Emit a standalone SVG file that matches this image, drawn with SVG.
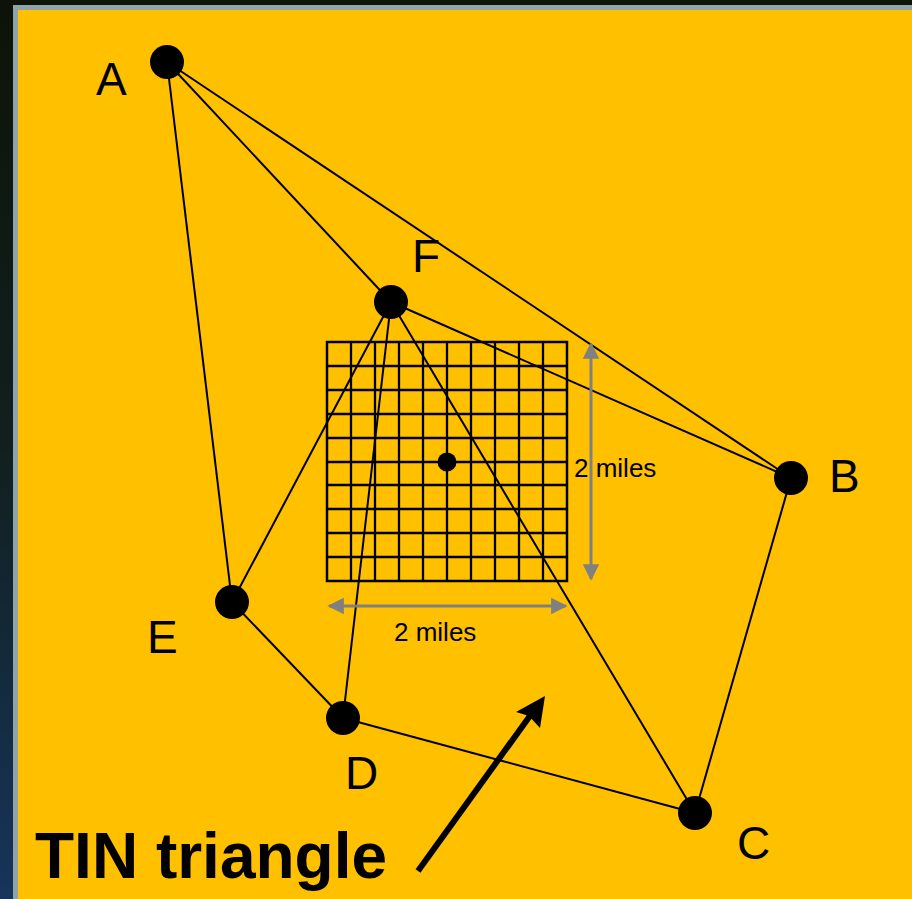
<svg xmlns="http://www.w3.org/2000/svg" width="912" height="899" viewBox="0 0 912 899">
<defs>
<linearGradient id="bg" x1="0" y1="0" x2="0" y2="1">
<stop offset="0" stop-color="#0d1308"/>
<stop offset="0.5" stop-color="#11201f"/>
<stop offset="1" stop-color="#17345a"/>
</linearGradient>
<marker id="ga" viewBox="0 0 10 10" refX="9" refY="5" markerWidth="5.5" markerHeight="5.5" orient="auto-start-reverse" markerUnits="strokeWidth">
<path d="M0,0 L10,5 L0,10 Z" fill="#808080"/>
</marker>
<style>
.edge{stroke:#000;stroke-width:2;fill:none}
.grid line{stroke:#000;stroke-width:2.3}
.node{fill:#000}
.lbl{font-family:"Liberation Sans",Arial,sans-serif;font-size:46px;fill:#000}
.dim{font-family:"Liberation Sans",Arial,sans-serif;font-size:26px;fill:#000}
.dimline{stroke:#808080;stroke-width:3;fill:none}
</style>
</defs>
<rect x="0" y="0" width="912" height="899" fill="url(#bg)"/>
<rect x="13" y="5" width="899" height="894" fill="#8ea4a8"/>
<rect x="18" y="10" width="894" height="889" fill="#FFC000"/>

<g id="grid" class="grid">
<rect x="327" y="342" width="240" height="239" fill="none" stroke="#000" stroke-width="2.5"/>
<line x1="351" y1="342" x2="351" y2="581"/>
<line x1="375" y1="342" x2="375" y2="581"/>
<line x1="399" y1="342" x2="399" y2="581"/>
<line x1="423" y1="342" x2="423" y2="581"/>
<line x1="447" y1="342" x2="447" y2="581"/>
<line x1="471" y1="342" x2="471" y2="581"/>
<line x1="495" y1="342" x2="495" y2="581"/>
<line x1="519" y1="342" x2="519" y2="581"/>
<line x1="543" y1="342" x2="543" y2="581"/>
<line x1="327" y1="366" x2="567" y2="366"/>
<line x1="327" y1="390" x2="567" y2="390"/>
<line x1="327" y1="414" x2="567" y2="414"/>
<line x1="327" y1="438" x2="567" y2="438"/>
<line x1="327" y1="462" x2="567" y2="462"/>
<line x1="327" y1="485" x2="567" y2="485"/>
<line x1="327" y1="509" x2="567" y2="509"/>
<line x1="327" y1="533" x2="567" y2="533"/>
<line x1="327" y1="557" x2="567" y2="557"/>
<circle cx="447" cy="462" r="9.5" fill="#000"/>
</g>

<g id="connectors">
<line class="edge" x1="167" y1="62" x2="391" y2="302"/>
<line class="edge" x1="167" y1="62" x2="791" y2="478"/>
<line class="edge" x1="167" y1="62" x2="232" y2="602"/>
<line class="edge" x1="391" y1="302" x2="791" y2="478"/>
<line class="edge" x1="391" y1="302" x2="232" y2="602"/>
<line class="edge" x1="391" y1="302" x2="343" y2="718"/>
<line class="edge" x1="391" y1="302" x2="695" y2="813"/>
<line class="edge" x1="232" y1="602" x2="343" y2="718"/>
<line class="edge" x1="343" y1="718" x2="695" y2="813"/>
<line class="edge" x1="695" y1="813" x2="791" y2="478"/>
</g>

<g id="dimensions">
<line class="dimline" x1="591" y1="344" x2="591" y2="579" marker-start="url(#ga)" marker-end="url(#ga)"/>
<line class="dimline" x1="329" y1="606" x2="566" y2="606" marker-start="url(#ga)" marker-end="url(#ga)"/>
<text class="dim" x="574" y="477">2 miles</text>
<text class="dim" x="394" y="641">2 miles</text>
</g>

<g id="node-A"><circle class="node" cx="167" cy="62" r="17"/><text class="lbl" x="96" y="95">A</text></g>
<g id="node-F"><circle class="node" cx="391" cy="302" r="17"/><text class="lbl" x="412" y="272">F</text></g>
<g id="node-B"><circle class="node" cx="791" cy="478" r="17"/><text class="lbl" x="829" y="492">B</text></g>
<g id="node-E"><circle class="node" cx="232" cy="602" r="17"/><text class="lbl" x="147" y="653">E</text></g>
<g id="node-D"><circle class="node" cx="343" cy="718" r="17"/><text class="lbl" x="345" y="789">D</text></g>
<g id="node-C"><circle class="node" cx="695" cy="813" r="17"/><text class="lbl" x="737" y="859">C</text></g>

<g id="tin-label">
<line x1="418" y1="871" x2="532" y2="713" stroke="#000" stroke-width="6"/>
<polygon points="545,696 540,728 529,716 516,712" fill="#000"/>
<text x="35" y="878" font-family="'Liberation Sans',Arial,sans-serif" font-size="64" font-weight="bold" fill="#000">TIN triangle</text>
</g>
</svg>
